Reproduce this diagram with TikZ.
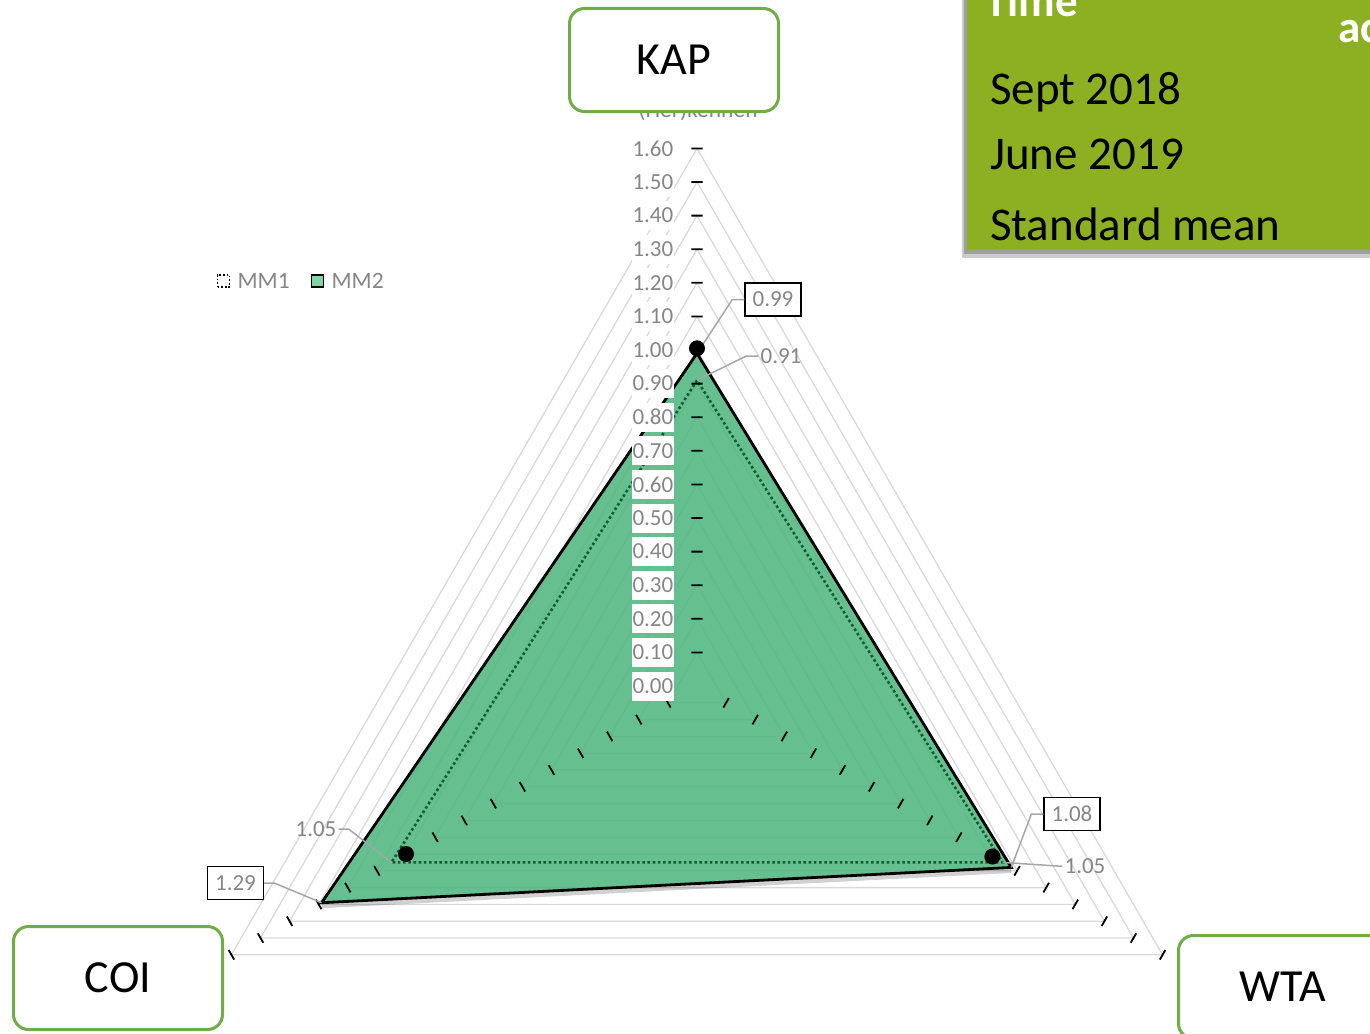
\documentclass[tikz,border=0pt]{standalone}
\usepackage{fontspec}
\setmainfont{Carlito}
\usetikzlibrary{positioning}

\definecolor{gridgray}{RGB}{217,217,217}
\definecolor{labelgray}{RGB}{134,134,134}
\definecolor{leadergray}{RGB}{166,166,166}
\definecolor{mmfill}{RGB}{81,182,128}
\definecolor{mmlegend}{RGB}{128,212,166}
\definecolor{mmdots}{RGB}{20,92,50}
\definecolor{catgreen}{RGB}{112,173,71}
\definecolor{boxgreen}{RGB}{140,176,34}

\tikzset{
  gridline/.style={draw=gridgray, line width=1.3pt},
  tickmark/.style={draw=black, line width=1.8pt},
  axislabel/.style={anchor=east, fill=white, text=labelgray, inner xsep=1pt, inner ysep=0pt,
    minimum height=29pt, font=\fontsize{23}{27}\selectfont},
  datalabel/.style={text=labelgray, inner sep=2pt, font=\fontsize{23}{27}\selectfont},
  databox/.style={datalabel, draw=black, line width=1.5pt, fill=white, inner xsep=7.5pt, minimum height=33pt},
  leader/.style={draw=leadergray, line width=1.5pt},
  datadot/.style={circle, fill=black, inner sep=0pt, minimum size=16pt},
  legendtext/.style={text=labelgray, inner sep=0pt, font=\fontsize{23.5}{28}\selectfont},
  catbox/.style={draw=catgreen, line width=3pt, rounded corners=15pt, fill=white,
    minimum width=209pt, minimum height=103pt, font=\fontsize{46}{55}\selectfont},
  headtext/.style={text=white, inner sep=0pt, anchor=base west, font=\bfseries\fontsize{45}{54}\selectfont},
  timetext/.style={text=black, inner sep=0pt, anchor=base west, font=\fontsize{47}{56}\selectfont}
}

\begin{document}
\begin{tikzpicture}[x=1pt, y=1pt]
  \path[use as bounding box, clip] (0,0) rectangle (1370,-1033);

  \begin{scope}[shift={(697,-686)}, x=33.6pt, y=33.6pt]
    \draw[gridline] (90:1) -- (210:1) -- (330:1) -- cycle;
    \draw[gridline] (90:2) -- (210:2) -- (330:2) -- cycle;
    \draw[gridline] (90:3) -- (210:3) -- (330:3) -- cycle;
    \draw[gridline] (90:4) -- (210:4) -- (330:4) -- cycle;
    \draw[gridline] (90:5) -- (210:5) -- (330:5) -- cycle;
    \draw[gridline] (90:6) -- (210:6) -- (330:6) -- cycle;
    \draw[gridline] (90:7) -- (210:7) -- (330:7) -- cycle;
    \draw[gridline] (90:8) -- (210:8) -- (330:8) -- cycle;
    \draw[gridline] (90:9) -- (210:9) -- (330:9) -- cycle;
    \draw[gridline] (90:10) -- (210:10) -- (330:10) -- cycle;
    \draw[gridline] (90:11) -- (210:11) -- (330:11) -- cycle;
    \draw[gridline] (90:12) -- (210:12) -- (330:12) -- cycle;
    \draw[gridline] (90:13) -- (210:13) -- (330:13) -- cycle;
    \draw[gridline] (90:14) -- (210:14) -- (330:14) -- cycle;
    \draw[gridline] (90:15) -- (210:15) -- (330:15) -- cycle;
    \draw[gridline] (90:16) -- (210:16) -- (330:16) -- cycle;

    \coordinate (kap2) at (90:9.9);
    \coordinate (coi2) at (210:12.9);
    \coordinate (wta2) at (330:10.8);
    \coordinate (kap1) at (90:9.1);
    \coordinate (coi1) at (210:10.5);
    \coordinate (wta1) at (330:10.5);
    \coordinate (kapm) at (90:10.05);
    \coordinate (coim) at (210:10);
    \coordinate (wtam) at (330:10.15);

    \draw[black, opacity=0.18, line width=5pt] ([yshift=-3pt]coi2) -- ([yshift=-3pt]wta2);
    \fill[mmfill, fill opacity=0.88] (kap2) -- (coi2) -- (wta2) -- cycle;
    \draw[mmdots, line width=2.6pt, dash pattern=on 2.6pt off 2.6pt] (kap1) -- (coi1) -- (wta1) -- cycle;
    \draw[black, line width=2.8pt] (kap2) -- (coi2) -- (wta2) -- cycle;

    \draw[tickmark] (90:1) ++(-0.164,0) -- ++(0.328,0) (210:1) ++(120:0.164) -- ++(300:0.328) (330:1) ++(60:0.164) -- ++(240:0.328);
    \draw[tickmark] (90:2) ++(-0.164,0) -- ++(0.328,0) (210:2) ++(120:0.164) -- ++(300:0.328) (330:2) ++(60:0.164) -- ++(240:0.328);
    \draw[tickmark] (90:3) ++(-0.164,0) -- ++(0.328,0) (210:3) ++(120:0.164) -- ++(300:0.328) (330:3) ++(60:0.164) -- ++(240:0.328);
    \draw[tickmark] (90:4) ++(-0.164,0) -- ++(0.328,0) (210:4) ++(120:0.164) -- ++(300:0.328) (330:4) ++(60:0.164) -- ++(240:0.328);
    \draw[tickmark] (90:5) ++(-0.164,0) -- ++(0.328,0) (210:5) ++(120:0.164) -- ++(300:0.328) (330:5) ++(60:0.164) -- ++(240:0.328);
    \draw[tickmark] (90:6) ++(-0.164,0) -- ++(0.328,0) (210:6) ++(120:0.164) -- ++(300:0.328) (330:6) ++(60:0.164) -- ++(240:0.328);
    \draw[tickmark] (90:7) ++(-0.164,0) -- ++(0.328,0) (210:7) ++(120:0.164) -- ++(300:0.328) (330:7) ++(60:0.164) -- ++(240:0.328);
    \draw[tickmark] (90:8) ++(-0.164,0) -- ++(0.328,0) (210:8) ++(120:0.164) -- ++(300:0.328) (330:8) ++(60:0.164) -- ++(240:0.328);
    \draw[tickmark] (90:9) ++(-0.164,0) -- ++(0.328,0) (210:9) ++(120:0.164) -- ++(300:0.328) (330:9) ++(60:0.164) -- ++(240:0.328);
    \draw[tickmark] (90:10) ++(-0.164,0) -- ++(0.328,0) (210:10) ++(120:0.164) -- ++(300:0.328) (330:10) ++(60:0.164) -- ++(240:0.328);
    \draw[tickmark] (90:11) ++(-0.164,0) -- ++(0.328,0) (210:11) ++(120:0.164) -- ++(300:0.328) (330:11) ++(60:0.164) -- ++(240:0.328);
    \draw[tickmark] (90:12) ++(-0.164,0) -- ++(0.328,0) (210:12) ++(120:0.164) -- ++(300:0.328) (330:12) ++(60:0.164) -- ++(240:0.328);
    \draw[tickmark] (90:13) ++(-0.164,0) -- ++(0.328,0) (210:13) ++(120:0.164) -- ++(300:0.328) (330:13) ++(60:0.164) -- ++(240:0.328);
    \draw[tickmark] (90:14) ++(-0.164,0) -- ++(0.328,0) (210:14) ++(120:0.164) -- ++(300:0.328) (330:14) ++(60:0.164) -- ++(240:0.328);
    \draw[tickmark] (90:15) ++(-0.164,0) -- ++(0.328,0) (210:15) ++(120:0.164) -- ++(300:0.328) (330:15) ++(60:0.164) -- ++(240:0.328);
    \draw[tickmark] (90:16) ++(-0.164,0) -- ++(0.328,0) (210:16) ++(120:0.164) -- ++(300:0.328) (330:16) ++(60:0.164) -- ++(240:0.328);

    \node[axislabel] (v0) at (-0.67,0) {0.00};
    \node[axislabel] (v1) at (-0.67,1) {0.10};
    \node[axislabel] (v2) at (-0.67,2) {0.20};
    \node[axislabel] (v3) at (-0.67,3) {0.30};
    \node[axislabel] (v4) at (-0.67,4) {0.40};
    \node[axislabel] (v5) at (-0.67,5) {0.50};
    \node[axislabel] (v6) at (-0.67,6) {0.60};
    \node[axislabel] (v7) at (-0.67,7) {0.70};
    \node[axislabel] (v8) at (-0.67,8) {0.80};
    \node[axislabel] (v9) at (-0.67,9) {0.90};
    \node[axislabel] (v10) at (-0.67,10) {1.00};
    \node[axislabel] (v11) at (-0.67,11) {1.10};
    \node[axislabel] (v12) at (-0.67,12) {1.20};
    \node[axislabel] (v13) at (-0.67,13) {1.30};
    \node[axislabel] (v14) at (-0.67,14) {1.40};
    \node[axislabel] (v15) at (-0.67,15) {1.50};
    \node[axislabel] (v16) at (-0.67,16) {1.60};
  \end{scope}

  \node[legendtext, anchor=base] (kapname) at (698,-117) {(Her)kennen};

  \node[databox] (l099) at (773,-299.5) {0.99};
  \node[datalabel] (l091) at (781,-356) {0.91};
  \node[databox] (l129) at (235.5,-883) {1.29};
  \node[datalabel] (l105a) at (316,-829) {1.05};
  \node[databox] (l108) at (1072,-814) {1.08};
  \node[datalabel] (l105b) at (1085,-866) {1.05};

  \draw[leader] (l099.west) -- ++(-12,0) -- (kap2);
  \draw[leader] (l091.west) -- ++(-12,0) -- (kap1);
  \draw[leader] (l129.east) -- ++(10,0) -- (coi2);
  \draw[leader] (l105a.east) -- ++(10,0) -- (coi1);
  \draw[leader] (l108.west) -- ++(-12,0) -- (wta2);
  \draw[leader] (l105b.west) -- ++(-5,0) -- (wta1);

  \node[datadot] (kapdot) at (kapm) {};
  \node[datadot] (coidot) at (coim) {};
  \node[datadot] (wtadot) at (wtam) {};

  \node[draw=black, line width=1.8pt, dash pattern=on 1.8pt off 1.8pt, minimum size=12pt, inner sep=0pt] (mm1key) at (223.5,-281) {};
  \node[legendtext, right=7pt of mm1key] (mm1text) {MM1};
  \node[draw=black, fill=mmlegend, line width=1.8pt, minimum size=12pt, inner sep=0pt] (mm2key) at (317.5,-281) {};
  \node[legendtext, right=7pt of mm2key] (mm2text) {MM2};

  \node[catbox] (kap) at (674,-60) {KAP};
  \node[catbox] (coi) at (118,-978) {COI};
  \node[catbox] (wta) at (1283,-987) {WTA};

  \fill[black!20] (962,40) rectangle (1380,-258);
  \fill[black!38] (964,40) rectangle (1380,-254);
  \fill[boxgreen] (967,40) rectangle (1380,-250);
  \node[headtext] (timehead) at (985,-17) {Time};
  \node[headtext] (acthead) at (1338,-43) {ac};
  \node[timetext] (sept) at (990,-104) {Sept 2018};
  \node[timetext] (june) at (990,-169) {June 2019};
  \node[timetext] (stdmean) at (990,-240) {Standard mean};
\end{tikzpicture}
\end{document}
